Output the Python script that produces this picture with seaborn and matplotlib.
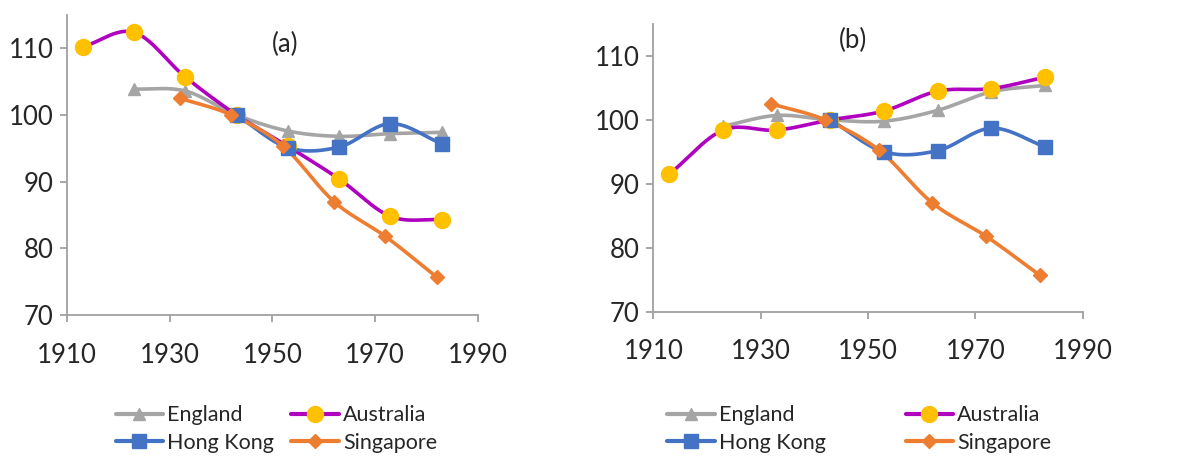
import numpy as np
import matplotlib
matplotlib.use("Agg")
import matplotlib.pyplot as plt
from matplotlib.lines import Line2D
import seaborn as sns

# data
years_a = [1913, 1923, 1933, 1943, 1953, 1963, 1973, 1983]
years_e = [1923, 1933, 1943, 1953, 1963, 1973, 1983]
years_hk = [1943, 1953, 1963, 1973, 1983]
years_sg = [1932, 1942, 1952, 1962, 1972, 1982]

# panel (a)
aus_a = [110.2, 112.4, 105.7, 100.0, 95.3, 90.4, 84.8, 84.3]
eng_a = [103.9, 103.6, 100.0, 97.6, 96.8, 97.2, 97.4]
hk_a = [100.0, 95.1, 95.2, 98.7, 95.7]
sg_a = [102.5, 100.0, 95.4, 87.0, 81.8, 75.7]

# panel (b)
aus_b = [91.5, 98.4, 98.4, 100.0, 101.4, 104.5, 104.9, 106.7]
eng_b = [99.0, 100.7, 100.0, 99.8, 101.5, 104.4, 105.4]
hk_b = [100.0, 95.0, 95.2, 98.7, 95.8]
sg_b = [102.5, 100.0, 95.3, 87.0, 81.8, 75.7]

names = ["England", "Australia", "Hong Kong", "Singapore"]
line_col = {"England": "#A5A5A5", "Australia": "#B000C0",
            "Hong Kong": "#4472C4", "Singapore": "#ED7D31"}
mark_col = {"England": "#A5A5A5", "Australia": "#FFC000",
            "Hong Kong": "#4472C4", "Singapore": "#ED7D31"}
mark = {"England": "^", "Australia": "o", "Hong Kong": "s", "Singapore": "D"}
msize = {"England": 9, "Australia": 11.5, "Hong Kong": 9.5, "Singapore": 7}

sns.set_style("white")
plt.rcParams["font.family"] = ["Lato", "DejaVu Sans"]


def smooth(x, y, n=30):
    # Catmull-Rom curve through the points, like Excel's smoothed line
    x = np.asarray(x, float)
    y = np.asarray(y, float)
    px = np.concatenate([[2 * x[0] - x[1]], x, [2 * x[-1] - x[-2]]])
    py = np.concatenate([[2 * y[0] - y[1]], y, [2 * y[-1] - y[-2]]])
    xs, ys = [], []
    t = np.linspace(0, 1, n)
    for i in range(1, len(px) - 2):
        for p, out in ((px, xs), (py, ys)):
            p0, p1, p2, p3 = p[i - 1], p[i], p[i + 1], p[i + 2]
            out.append(0.5 * (2 * p1 + (-p0 + p2) * t
                              + (2 * p0 - 5 * p1 + 4 * p2 - p3) * t ** 2
                              + (-p0 + 3 * p1 - 3 * p2 + p3) * t ** 3))
    return np.concatenate(xs), np.concatenate(ys)


def draw(ax, series, label, lx, ly):
    for name in names:
        x, y = series[name]
        sx, sy = smooth(x, y)
        sns.lineplot(x=sx, y=sy, ax=ax, color=line_col[name], lw=2.6,
                     sort=False, estimator=None)
    for name in names:
        x, y = series[name]
        ax.plot(x, y, ls="none", marker=mark[name], ms=msize[name],
                mfc=mark_col[name], mec=mark_col[name])
    ax.set_xlim(1910, 1990)
    ax.set_ylim(70, 115)
    ax.set_xticks([1910, 1930, 1950, 1970, 1990])
    ax.set_yticks([70, 80, 90, 100, 110])
    sns.despine(ax=ax)
    for s in ["left", "bottom"]:
        ax.spines[s].set_color("#A0A0A0")
        ax.spines[s].set_linewidth(1.3)
    ax.tick_params(axis="both", labelsize=18.5, length=5, width=1.3,
                   color="#A0A0A0", direction="out", bottom=True, left=True)
    ax.tick_params(axis="x", pad=15)
    ax.tick_params(axis="y", pad=5)
    ax.text(lx, ly, label, fontsize=18.5, ha="center", va="center")


fig = plt.figure(figsize=(11.78, 4.57), dpi=100)
ax1 = fig.add_axes([0.0571, 0.3107, 0.3484, 0.6565])
ax2 = fig.add_axes([0.5546, 0.318, 0.3645, 0.6295])

draw(ax1, {"England": (years_e, eng_a), "Australia": (years_a, aus_a),
           "Hong Kong": (years_hk, hk_a), "Singapore": (years_sg, sg_a)},
     "(a)", 1952.5, 110.6)
draw(ax2, {"England": (years_e, eng_b), "Australia": (years_a, aus_b),
           "Hong Kong": (years_hk, hk_b), "Singapore": (years_sg, sg_b)},
     "(b)", 1947.2, 112.4)

handles = {n: Line2D([], [], color=line_col[n], lw=3, marker=mark[n],
                     ms=msize[n], mfc=mark_col[n], mec=mark_col[n])
           for n in names}
order = ["England", "Hong Kong", "Australia", "Singapore"]
for x0, cs in ((0.089, 0.8), (0.5575, 3.7)):
    fig.legend([handles[n] for n in order], order, ncol=2, loc="upper left",
               bbox_to_anchor=(x0, 0.137), frameon=False, fontsize=15.5,
               handlelength=2.2, handletextpad=0.2, columnspacing=cs,
               labelspacing=0.35, borderpad=0)

fig.savefig("out.png", dpi=100)
